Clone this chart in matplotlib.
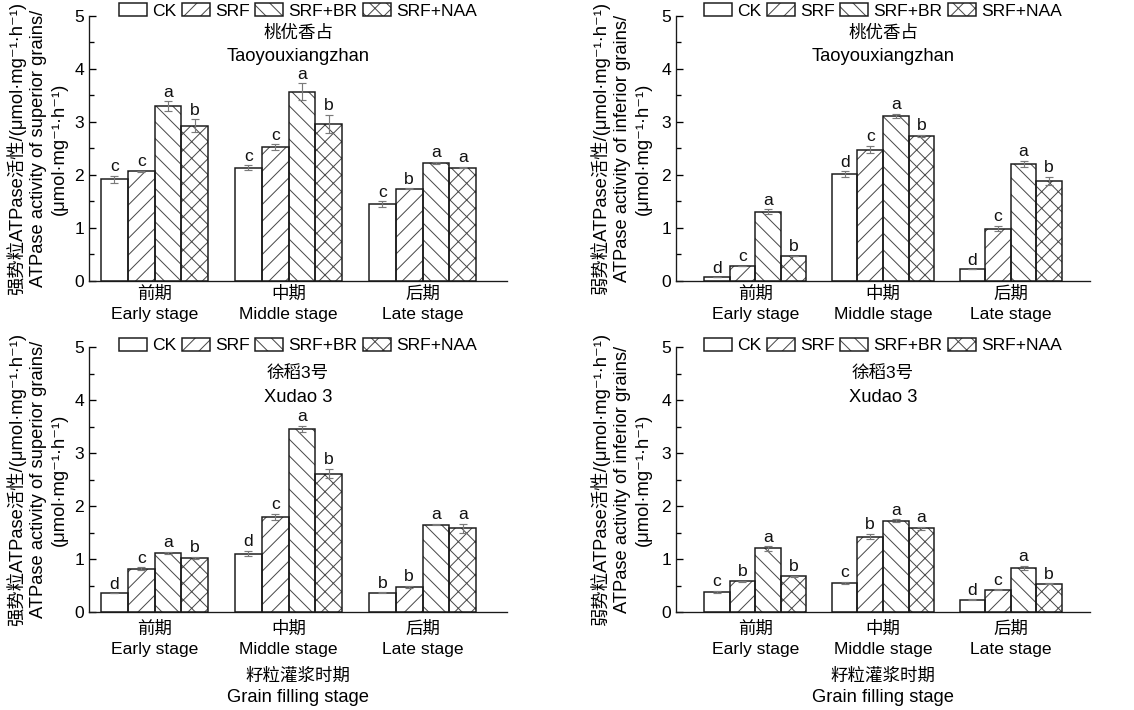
import numpy as np
import matplotlib
matplotlib.use('Agg')
import matplotlib.pyplot as plt
from matplotlib.ticker import MultipleLocator
from matplotlib.legend_handler import HandlerTuple

plt.rcParams['font.family'] = ['Liberation Sans', 'DejaVu Sans', 'Noto Sans CJK SC']
plt.rcParams['font.weight'] = 'medium'

DPI = 100
S = 120 / DPI          # sizes below were tuned in points at 120 dpi
W, H = 1134, 710
plt.rcParams['hatch.linewidth'] = 0.6 * S

treatments = ['CK', 'SRF', 'SRF+BR', 'SRF+NAA']
hatches = ['', '//', '\\\\', 'xx']
stages = ['前期\nEarly stage', '中期\nMiddle stage', '后期\nLate stage']

# Panel A: Taoyouxiangzhan, superior grains (rows = treatments, cols = stages)
ty_sup_mean = [[1.92, 2.14, 1.45], [2.07, 2.53, 1.74], [3.30, 3.57, 2.23], [2.93, 2.96, 2.14]]
ty_sup_err = [[0.07, 0.04, 0.05], [0.01, 0.05, 0.01], [0.09, 0.16, 0.02], [0.12, 0.17, 0.01]]
ty_sup_sig = [['c', 'c', 'c'], ['c', 'c', 'b'], ['a', 'a', 'a'], ['b', 'b', 'a']]

# Panel B: Taoyouxiangzhan, inferior grains
ty_inf_mean = [[0.07, 2.02, 0.22], [0.29, 2.48, 0.99], [1.31, 3.11, 2.21], [0.48, 2.74, 1.89]]
ty_inf_err = [[0.0, 0.05, 0.0], [0.0, 0.07, 0.05], [0.04, 0.04, 0.06], [0.0, 0.02, 0.08]]
ty_inf_sig = [['d', 'd', 'd'], ['c', 'c', 'c'], ['a', 'a', 'a'], ['b', 'b', 'b']]

# Panel C: Xudao 3, superior grains
xd_sup_mean = [[0.35, 1.10, 0.36], [0.82, 1.79, 0.47], [1.11, 3.45, 1.65], [1.02, 2.61, 1.58]]
xd_sup_err = [[0.0, 0.05, 0.01], [0.02, 0.06, 0.02], [0.02, 0.06, 0.01], [0.02, 0.09, 0.08]]
xd_sup_sig = [['d', 'd', 'b'], ['c', 'c', 'b'], ['a', 'a', 'a'], ['b', 'b', 'a']]

# Panel D: Xudao 3, inferior grains
xd_inf_mean = [[0.38, 0.55, 0.23], [0.58, 1.42, 0.42], [1.20, 1.72, 0.83], [0.67, 1.58, 0.53]]
xd_inf_err = [[0.02, 0.02, 0.01], [0.01, 0.05, 0.01], [0.04, 0.03, 0.04], [0.01, 0.03, 0.01]]
xd_inf_sig = [['c', 'c', 'd'], ['b', 'b', 'c'], ['a', 'a', 'a'], ['b', 'a', 'b']]

unit = '(μmol·mg⁻¹·h⁻¹)'
ylab_sup = '强势粒ATPase活性/' + unit + '\nATPase activity of superior grains/\n' + unit
ylab_inf = '弱势粒ATPase活性/' + unit + '\nATPase activity of inferior grains/\n' + unit

fig = plt.figure(figsize=(W / DPI, H / DPI), dpi=DPI)

def px_rect(l, r, top, bot):
    return [l / W, 1 - bot / H, (r - l) / W, (bot - top) / H]

panels = [
    dict(rect=px_rect(89, 507, 16, 281), xlim=(-0.49, 2.63), mean=ty_sup_mean, err=ty_sup_err,
         sig=ty_sup_sig, t1='桃优香占', t2='Taoyouxiangzhan', ty=(0.936, 0.849), ylab=ylab_sup,
         ylx=-0.125, leg_y=1.02, pad=3, ls=1.4, xlabel=False),
    dict(rect=px_rect(676, 1090, 16, 281), xlim=(-0.62, 2.62), mean=ty_inf_mean, err=ty_inf_err,
         sig=ty_inf_sig, t1='桃优香占', t2='Taoyouxiangzhan', ty=(0.936, 0.849), ylab=ylab_inf,
         ylx=-0.133, leg_y=1.02, pad=3, ls=1.4, xlabel=False),
    dict(rect=px_rect(89, 507, 347, 612), xlim=(-0.49, 2.63), mean=xd_sup_mean, err=xd_sup_err,
         sig=xd_sup_sig, t1='徐稻3号', t2='Xudao 3', ty=(0.902, 0.808), ylab=ylab_sup,
         ylx=-0.125, leg_y=1.006, pad=5, ls=1.5, xlabel=True),
    dict(rect=px_rect(676, 1090, 347, 612), xlim=(-0.62, 2.62), mean=xd_inf_mean, err=xd_inf_err,
         sig=xd_inf_sig, t1='徐稻3号', t2='Xudao 3', ty=(0.902, 0.808), ylab=ylab_inf,
         ylx=-0.133, leg_y=1.006, pad=5, ls=1.5, xlabel=True),
]

width = 0.2
x = np.arange(len(stages))

for p in panels:
    ax = fig.add_axes(p['rect'])
    handles = []
    for i, t in enumerate(treatments):
        xs = x + (i - 1.5) * width
        b1 = ax.bar(xs, p['mean'][i], width, color='white', edgecolor='#4a4a4a',
                    hatch=hatches[i], linewidth=0.0, zorder=2)
        b2 = ax.bar(xs, p['mean'][i], width, fill=False, edgecolor='#1a1a1a',
                    linewidth=0.9 * S, zorder=3)
        handles.append((b1[0], b2[0]))
        ax.errorbar(xs, p['mean'][i], yerr=p['err'][i], fmt='none', ecolor='#7a7a7a',
                    elinewidth=0.7 * S, capsize=2.4 * S, capthick=0.7 * S, zorder=4)
        for xx, m, e, s in zip(xs, p['mean'][i], p['err'][i], p['sig'][i]):
            ax.annotate(s, (xx, m + e), xytext=(0, 1 * S), textcoords='offset points',
                        ha='center', va='bottom', fontsize=10.5 * S, color='#111111')
    ax.set_xlim(*p['xlim'])
    ax.set_ylim(0, 5)
    ax.yaxis.set_major_locator(MultipleLocator(1))
    ax.yaxis.set_minor_locator(MultipleLocator(0.5))
    ax.set_xticks(x)
    ax.set_xticklabels(stages, fontsize=10.5 * S, linespacing=p['ls'])
    ax.tick_params(axis='x', length=0, pad=p['pad'] * S)
    ax.tick_params(axis='y', which='major', direction='in', length=4 * S, width=0.8 * S,
                   labelsize=10.5 * S, pad=3 * S)
    ax.tick_params(axis='y', which='minor', direction='in', length=3 * S, width=0.8 * S)
    for s in ['top', 'right']:
        ax.spines[s].set_visible(False)
    for s in ['left', 'bottom']:
        ax.spines[s].set_linewidth(0.8 * S)
        ax.spines[s].set_color('#1a1a1a')
    ax.text(0.5, p['ty'][0], p['t1'], transform=ax.transAxes, ha='center', va='center',
            fontsize=10.5 * S)
    ax.text(0.5, p['ty'][1], p['t2'], transform=ax.transAxes, ha='center', va='center',
            fontsize=11 * S)
    ax.text(p['ylx'], 0.5, p['ylab'], transform=ax.transAxes, rotation=90, ha='center',
            va='center', multialignment='center', fontsize=11 * S, linespacing=1.3)
    ax.legend(handles, treatments, loc='center', bbox_to_anchor=(0.5, p['leg_y']),
              ncol=4, frameon=False, fontsize=10.5 * S, handlelength=1.6, handleheight=0.8,
              handletextpad=0.3, columnspacing=0.3, borderpad=0, borderaxespad=0,
              handler_map={tuple: HandlerTuple(ndivide=1, pad=0)})
    if p['xlabel']:
        ax.text(0.5, -0.2415, '籽粒灌浆时期', transform=ax.transAxes, ha='center',
                va='center', fontsize=10.5 * S)
        ax.text(0.5, -0.3245, 'Grain filling stage', transform=ax.transAxes, ha='center',
                va='center', fontsize=11 * S)

fig.savefig('out.png', dpi=DPI)
